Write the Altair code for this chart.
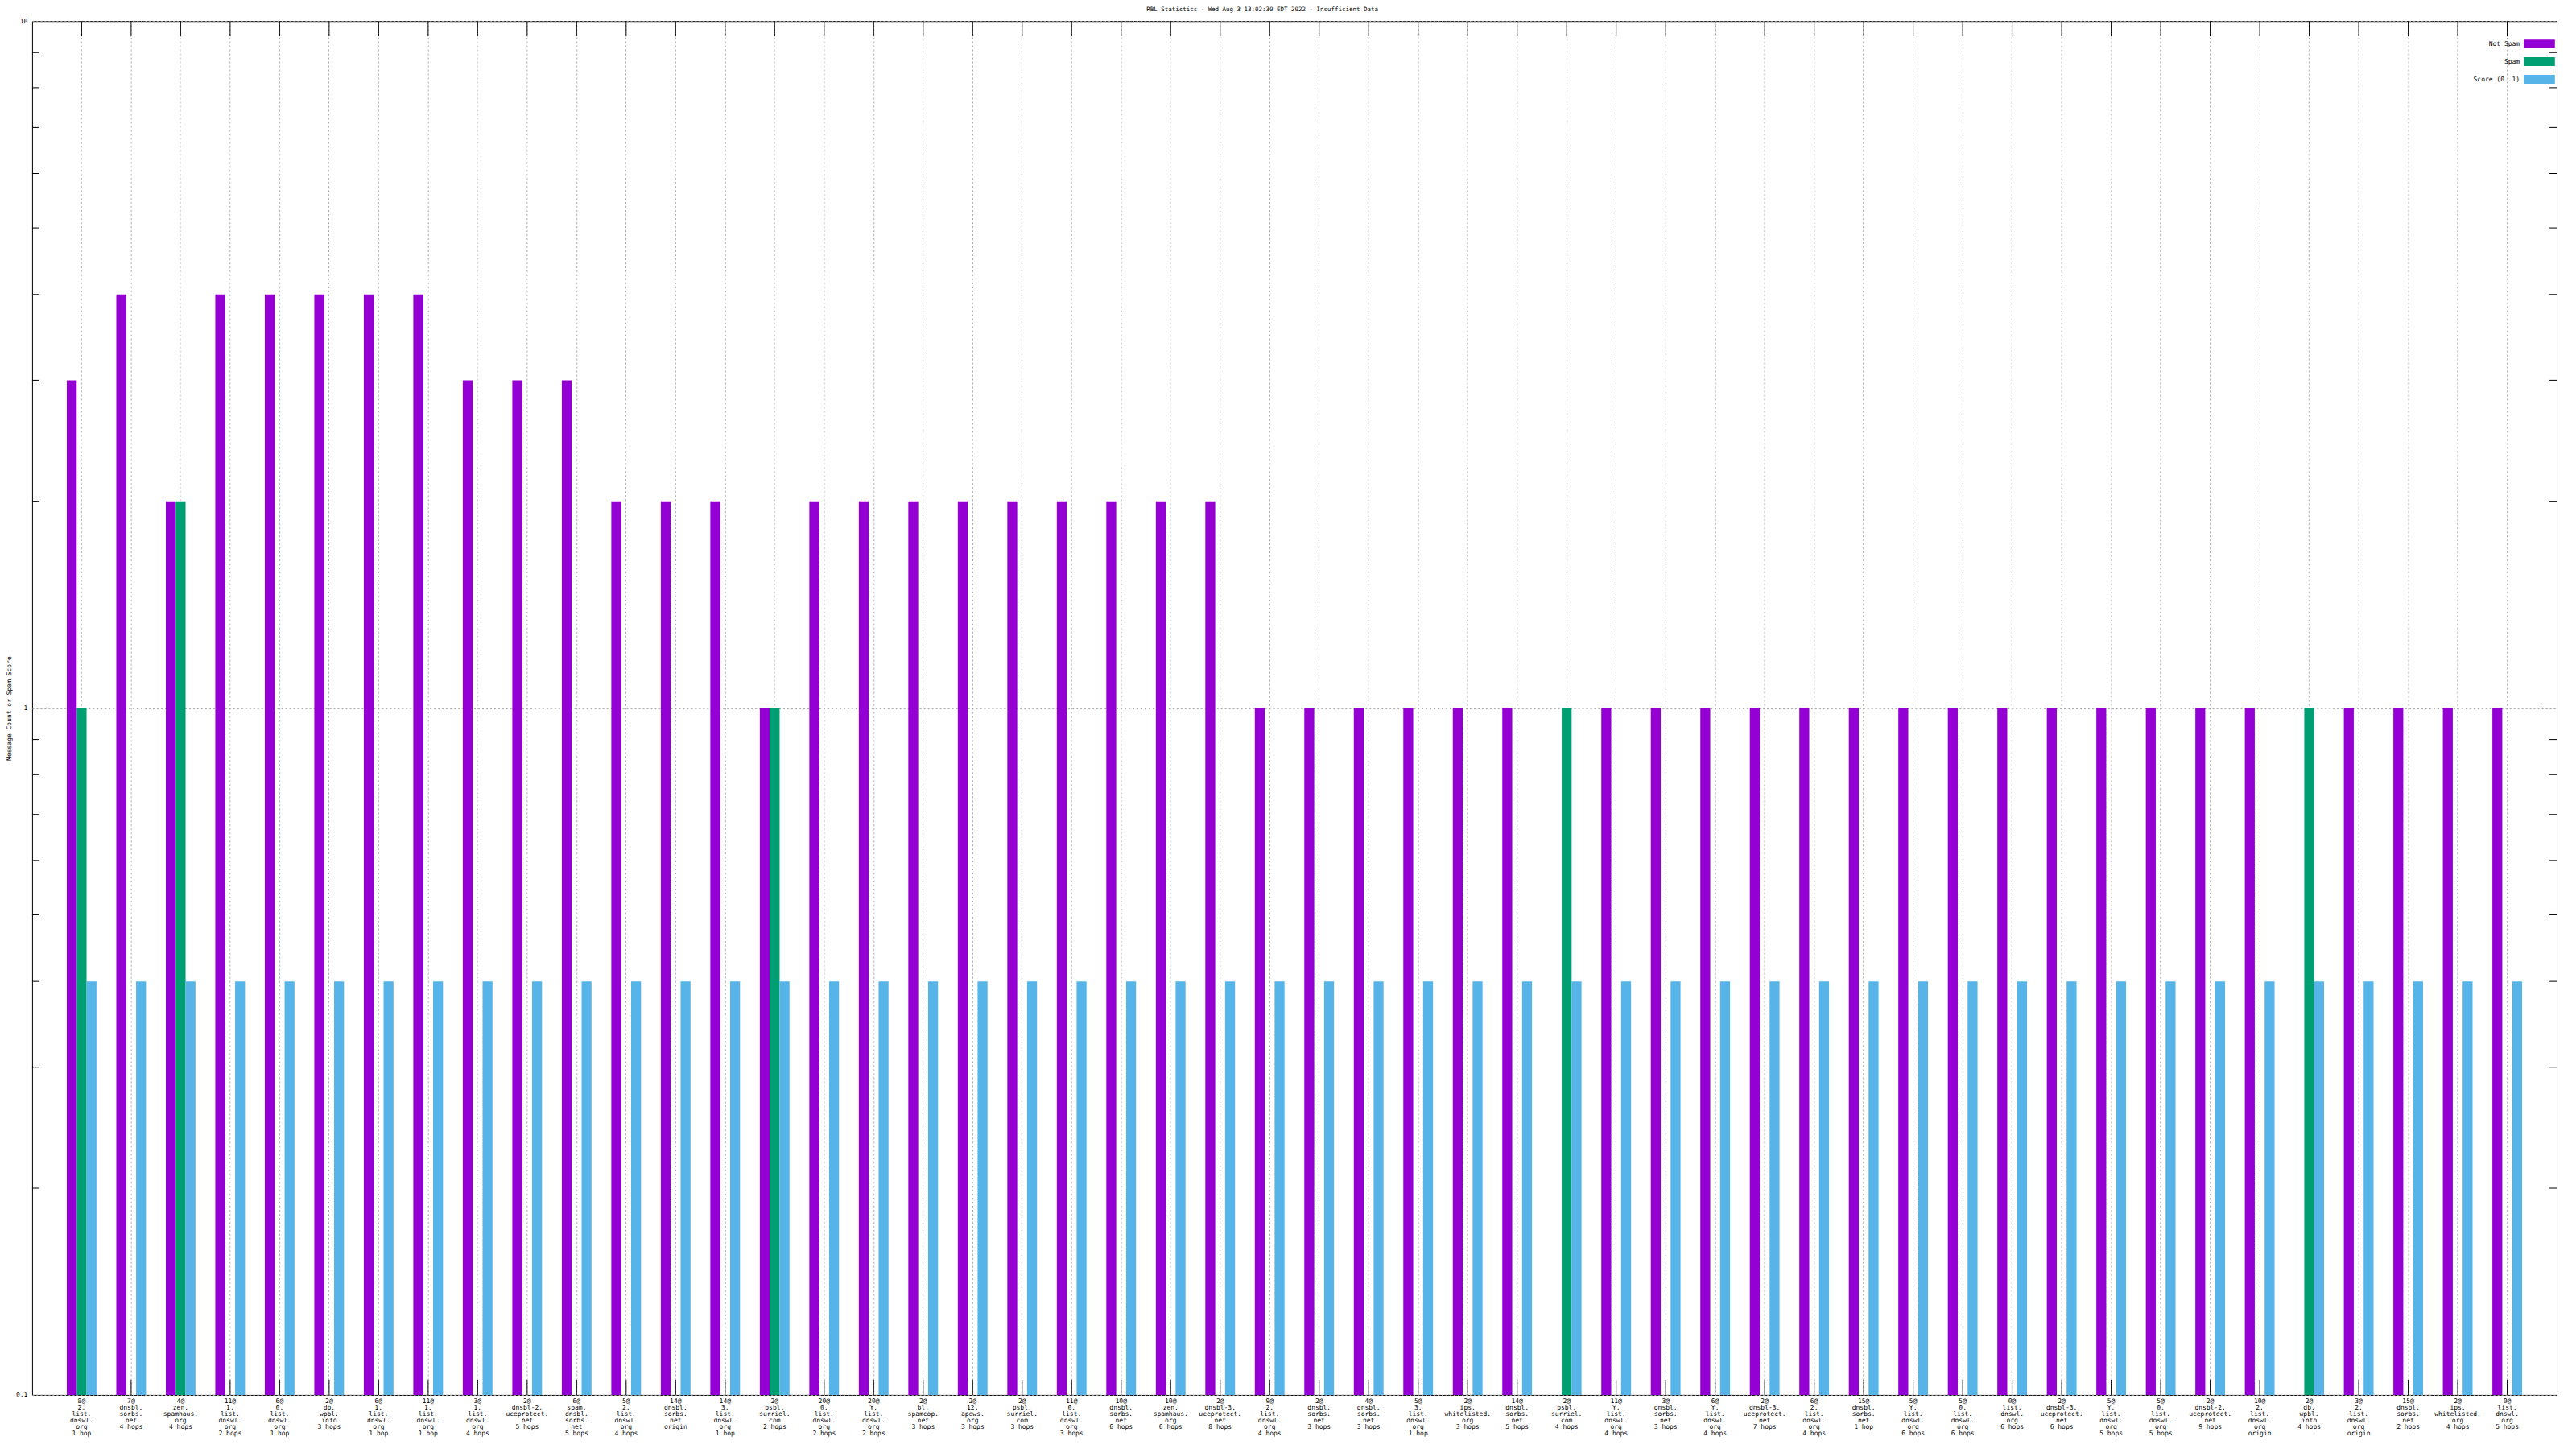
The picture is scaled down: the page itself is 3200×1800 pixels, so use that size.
import altair as alt
import pandas as pd

categories = [
    "8@|2.|list.|dnswl.|org|1 hop",
    "7@|dnsbl.|sorbs.|net|4 hops",
    "4@|zen.|spamhaus.|org|4 hops",
    "11@|1.|list.|dnswl.|org|2 hops",
    "6@|0.|list.|dnswl.|org|1 hop",
    "2@|db.|wpbl.|info|3 hops",
    "6@|1.|list.|dnswl.|org|1 hop",
    "11@|1.|list.|dnswl.|org|1 hop",
    "3@|1.|list.|dnswl.|org|4 hops",
    "2@|dnsbl-2.|uceprotect.|net|5 hops",
    "6@|spam.|dnsbl.|sorbs.|net|5 hops",
    "5@|2.|list.|dnswl.|org|4 hops",
    "14@|dnsbl.|sorbs.|net|origin",
    "14@|3.|list.|dnswl.|org|1 hop",
    "2@|psbl.|surriel.|com|2 hops",
    "20@|0.|list.|dnswl.|org|2 hops",
    "20@|Y.|list.|dnswl.|org|2 hops",
    "2@|bl.|spamcop.|net|3 hops",
    "2@|12.|apews.|org|3 hops",
    "2@|psbl.|surriel.|com|3 hops",
    "11@|0.|list.|dnswl.|org|3 hops",
    "10@|dnsbl.|sorbs.|net|6 hops",
    "10@|zen.|spamhaus.|org|6 hops",
    "2@|dnsbl-3.|uceprotect.|net|8 hops",
    "9@|2.|list.|dnswl.|org|4 hops",
    "2@|dnsbl.|sorbs.|net|3 hops",
    "4@|dnsbl.|sorbs.|net|3 hops",
    "5@|3.|list.|dnswl.|org|1 hop",
    "2@|ips.|whitelisted.|org|3 hops",
    "14@|dnsbl.|sorbs.|net|5 hops",
    "2@|psbl.|surriel.|com|4 hops",
    "11@|Y.|list.|dnswl.|org|4 hops",
    "3@|dnsbl.|sorbs.|net|3 hops",
    "6@|Y.|list.|dnswl.|org|4 hops",
    "2@|dnsbl-3.|uceprotect.|net|7 hops",
    "6@|2.|list.|dnswl.|org|4 hops",
    "15@|dnsbl.|sorbs.|net|1 hop",
    "5@|Y.|list.|dnswl.|org|6 hops",
    "5@|0.|list.|dnswl.|org|6 hops",
    "0@|list.|dnswl.|org|6 hops",
    "2@|dnsbl-3.|uceprotect.|net|6 hops",
    "5@|Y.|list.|dnswl.|org|5 hops",
    "5@|0.|list.|dnswl.|org|5 hops",
    "2@|dnsbl-2.|uceprotect.|net|9 hops",
    "10@|2.|list.|dnswl.|org|origin",
    "2@|db.|wpbl.|info|4 hops",
    "3@|2.|list.|dnswl.|org|origin",
    "15@|dnsbl.|sorbs.|net|2 hops",
    "2@|ips.|whitelisted.|org|4 hops",
    "0@|list.|dnswl.|org|5 hops",
]

not_spam = [3, 4, 2, 4, 4, 4, 4, 4, 3, 3,
            3, 2, 2, 2, 1, 2, 2, 2, 2, 2,
            2, 2, 2, 2, 1, 1, 1, 1, 1, 1,
            0, 1, 1, 1, 1, 1, 1, 1, 1, 1,
            1, 1, 1, 1, 1, 0, 1, 1, 1, 1]

spam = [1, 0, 2, 0, 0, 0, 0, 0, 0, 0,
        0, 0, 0, 0, 1, 0, 0, 0, 0, 0,
        0, 0, 0, 0, 0, 0, 0, 0, 0, 0,
        1, 0, 0, 0, 0, 0, 0, 0, 0, 0,
        0, 0, 0, 0, 0, 1, 0, 0, 0, 0]

score = [0.4, 0.4, 0.4, 0.4, 0.4, 0.4, 0.4, 0.4, 0.4, 0.4,
         0.4, 0.4, 0.4, 0.4, 0.4, 0.4, 0.4, 0.4, 0.4, 0.4,
         0.4, 0.4, 0.4, 0.4, 0.4, 0.4, 0.4, 0.4, 0.4, 0.4,
         0.4, 0.4, 0.4, 0.4, 0.4, 0.4, 0.4, 0.4, 0.4, 0.4,
         0.4, 0.4, 0.4, 0.4, 0.4, 0.4, 0.4, 0.4, 0.4, 0.4]

series_names = ["Not Spam", "Spam", "Score (0..1)"]
series_colors = ["#9400D3", "#009E73", "#56B4E9"]

minor_ticks = [0.2, 0.3, 0.4, 0.5, 0.6, 0.7, 0.8, 0.9, 2, 3, 4, 5, 6, 7, 8, 9]
major_ticks = [1]

title_text = "RBL Statistics - Wed Aug  3 13:02:30 EDT 2022 - Insufficient Data"
y_title = "Message Count or Spam Score"

FONT = "DejaVu Sans Mono"
W = 3144
H = 1711

rows = []
for i, c in enumerate(categories):
    for s, vals in zip(series_names, [not_spam, spam, score]):
        rows.append({"cat": c, "series": s, "value": vals[i]})
df = pd.DataFrame(rows)
cat_df = pd.DataFrame({"cat": categories})
minor_df = pd.DataFrame({"value": minor_ticks})
major_df = pd.DataFrame({"value": major_ticks})

x_scale = alt.Scale(domain=categories, paddingInner=0.4, paddingOuter=0.7, align=0.5)
x_axis = alt.Axis(
    title=None, domain=False, ticks=False, grid=True, gridDash=[2, 3],
    gridColor="#a8a8a8", gridWidth=1, bandPosition=0.5,
    labelAngle=0, labelExpr="split(datum.label, '|')", labelFont=FONT,
    labelFontSize=8, labelLineHeight=8, labelPadding=4, labelBaseline="top",
    labelOverlap=False, labelLimit=0, labelColor="black", labelBound=False,
)
y_scale = alt.Scale(type="log", domain=[0.1, 10])
y_axis = alt.Axis(
    title=y_title, values=[0.1, 1, 10], format="~g", domain=False, ticks=False,
    grid=True, gridDash=[2, 3], gridColor="#a8a8a8", gridWidth=1,
    labelFont=FONT, labelFontSize=8, labelPadding=6, labelColor="black",
    titleFont=FONT, titleFontSize=8, titleFontWeight="normal", titleColor="black",
    titleX=-28, titleY=H / 2, titleAngle=-90, titleAlign="center", titleBaseline="middle",
)

X = alt.X("cat:N", sort=categories, scale=x_scale, axis=x_axis)
Y = alt.Y("value:Q", scale=y_scale, axis=y_axis)
Y_bar = alt.Y("value:Q", scale=y_scale, axis=y_axis, stack=None)

xt_top = alt.Chart(cat_df).mark_rule(color="black", strokeWidth=1).encode(
    x=X, y=alt.value(0), y2=alt.value(19))
xt_bot = alt.Chart(cat_df).mark_rule(color="black", strokeWidth=1).encode(
    x=X, y=alt.value(H), y2=alt.value(H - 19))
ymin_l = alt.Chart(minor_df).mark_rule(color="black", strokeWidth=1).encode(
    y=Y, x=alt.value(0), x2=alt.value(9))
ymin_r = alt.Chart(minor_df).mark_rule(color="black", strokeWidth=1).encode(
    y=Y, x=alt.value(W), x2=alt.value(W - 9))
ymaj_l = alt.Chart(major_df).mark_rule(color="black", strokeWidth=1).encode(
    y=Y, x=alt.value(0), x2=alt.value(18))
ymaj_r = alt.Chart(major_df).mark_rule(color="black", strokeWidth=1).encode(
    y=Y, x=alt.value(W), x2=alt.value(W - 18))

bars = alt.Chart(df).transform_filter("datum.value > 0").mark_bar(opacity=1).encode(
    x=X,
    xOffset=alt.XOffset("series:N", sort=series_names,
                        scale=alt.Scale(domain=series_names, paddingInner=0, paddingOuter=0)),
    y=Y_bar,
    color=alt.Color(
        "series:N", sort=series_names,
        scale=alt.Scale(domain=series_names, range=series_colors),
        legend=alt.Legend(
            title=None, orient="none", legendX=3117, legendY=23,
            symbolType="M-3.5,-1H3.5V1H-3.5Z", symbolSize=121,
            symbolStrokeWidth=0, symbolOpacity=1, symbolOffset=0,
            labelAlign="right", labelOffset={"expr": "-30"}, labelFont=FONT, labelFontSize=8,
            labelColor="black", labelBaseline="middle", rowPadding=11, padding=0,
        ),
    ),
)

chart = alt.layer(xt_top, xt_bot, ymin_l, ymin_r, ymaj_l, ymaj_r, bars).properties(
    width=W, height=H,
    title=alt.TitleParams(title_text, font=FONT, fontSize=7.5, fontWeight="normal",
                          color="black", anchor="middle", frame="group", dx=-40, dy=7,
                          offset=8, baseline="alphabetic"),
    autosize=alt.AutoSizeParams(type="none"),
    padding={"left": 32, "top": 16, "right": 16, "bottom": 60},
    background="white",
).configure_view(stroke="black", strokeWidth=1)

chart.save("out.html", embed_options={"renderer": "svg", "actions": False})
